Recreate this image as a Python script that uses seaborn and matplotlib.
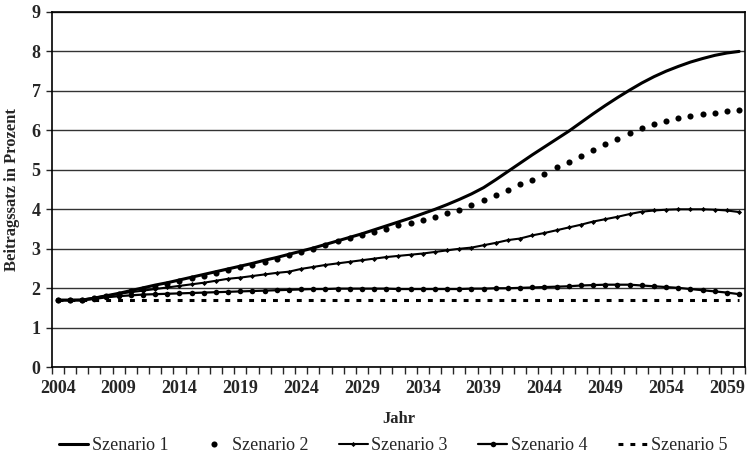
import numpy as np
import pandas as pd
import seaborn as sns
import matplotlib.pyplot as plt

years = list(range(2004, 2061))

szenario1 = [1.70, 1.70, 1.70, 1.75, 1.81, 1.87, 1.94, 2.01, 2.08, 2.14, 2.21, 2.28, 2.35, 2.42,
             2.49, 2.56, 2.63, 2.71, 2.78, 2.86, 2.94, 3.02, 3.11, 3.20, 3.29, 3.38, 3.48, 3.58,
             3.68, 3.78, 3.89, 4.00, 4.12, 4.25, 4.39, 4.55, 4.75, 4.96, 5.17, 5.38, 5.58, 5.78,
             5.98, 6.20, 6.42, 6.63, 6.83, 7.02, 7.20, 7.36, 7.50, 7.62, 7.73, 7.82, 7.90, 7.96, 8.00]
szenario2 = [1.70, 1.70, 1.70, 1.75, 1.80, 1.86, 1.92, 1.98, 2.04, 2.11, 2.18, 2.25, 2.32, 2.38,
             2.46, 2.53, 2.59, 2.66, 2.74, 2.83, 2.93, 3.00, 3.09, 3.19, 3.27, 3.36, 3.43, 3.50,
             3.59, 3.66, 3.73, 3.80, 3.90, 3.99, 4.12, 4.23, 4.35, 4.48, 4.63, 4.75, 4.90, 5.06,
             5.20, 5.35, 5.50, 5.65, 5.79, 5.93, 6.05, 6.15, 6.24, 6.31, 6.36, 6.41, 6.45, 6.48, 6.51]
szenario3 = [1.70, 1.70, 1.71, 1.76, 1.81, 1.86, 1.90, 1.94, 1.98, 2.02, 2.06, 2.10, 2.14, 2.19,
             2.24, 2.27, 2.31, 2.35, 2.39, 2.42, 2.49, 2.54, 2.59, 2.63, 2.67, 2.71, 2.75, 2.79,
             2.82, 2.85, 2.88, 2.92, 2.96, 3.00, 3.03, 3.09, 3.15, 3.22, 3.26, 3.34, 3.40, 3.47,
             3.54, 3.61, 3.69, 3.75, 3.81, 3.88, 3.94, 3.97, 3.99, 4.00, 4.00, 4.00, 3.99, 3.97, 3.93]
szenario4 = [1.70, 1.70, 1.70, 1.73, 1.77, 1.80, 1.82, 1.84, 1.85, 1.86, 1.87, 1.88, 1.89, 1.90,
             1.91, 1.92, 1.93, 1.94, 1.95, 1.96, 1.97, 1.98, 1.98, 1.99, 1.99, 1.99, 1.99, 1.99,
             1.98, 1.98, 1.98, 1.98, 1.98, 1.98, 1.99, 1.99, 2.00, 2.00, 2.01, 2.02, 2.03, 2.04,
             2.05, 2.07, 2.08, 2.09, 2.09, 2.09, 2.07, 2.05, 2.03, 2.01, 1.98, 1.95, 1.92, 1.89, 1.85]
szenario5 = [1.70] * 57

df = pd.DataFrame({"Jahr": years, "Szenario 1": szenario1, "Szenario 2": szenario2,
                   "Szenario 3": szenario3, "Szenario 4": szenario4, "Szenario 5": szenario5})

sns.set_style("white")
plt.rcParams["font.family"] = ["Liberation Serif", "DejaVu Serif"]

fig = plt.figure(figsize=(7.49, 4.59), dpi=100)
ax = fig.add_axes([0.069, 0.2, 0.926, 0.774])

sns.lineplot(data=df, x="Jahr", y="Szenario 1", ax=ax, color="black", lw=2.2, label="Szenario 1")
sns.lineplot(data=df, x="Jahr", y="Szenario 2", ax=ax, color="black", lw=0, marker="o",
             markersize=4.4, markeredgewidth=0, label="Szenario 2")
sns.lineplot(data=df, x="Jahr", y="Szenario 3", ax=ax, color="black", lw=1.5, marker="D",
             markersize=2.6, markeredgewidth=0, label="Szenario 3")
sns.lineplot(data=df, x="Jahr", y="Szenario 4", ax=ax, color="black", lw=1.6, marker="o",
             markersize=4, markeredgewidth=0, label="Szenario 4")
sns.lineplot(data=df, x="Jahr", y="Szenario 5", ax=ax, color="black", lw=2.2,
             linestyle=(0, (1.6, 2.3)), label="Szenario 5")

ax.set_xlim(2003.5, 2060.5)
ax.set_ylim(0, 9)
ax.set_yticks(range(0, 10))
ax.set_xticks(range(2004, 2061, 5))
ax.set_xticks(np.arange(2003.5, 2061, 1), minor=True)
ax.tick_params(axis="x", which="major", length=0, pad=9, labelsize=13)
ax.tick_params(axis="x", which="minor", length=5, width=1, direction="out", bottom=True)
ax.tick_params(axis="y", length=4, width=1, direction="out", left=True, labelsize=13, pad=4)
for lab in ax.get_xticklabels() + ax.get_yticklabels():
    lab.set_fontweight("bold")
ax.grid(axis="y", color="#333333", lw=1)
for s in ax.spines.values():
    s.set_color("black")
    s.set_linewidth(1.2)

ax.set_xlabel("Jahr", fontweight="bold", fontsize=12, labelpad=10)
ax.set_ylabel("Beitragssatz in Prozent", fontweight="bold", fontsize=12, labelpad=8)

handles, labels = ax.get_legend_handles_labels()
ax.get_legend().remove()
fig.legend(handles, labels, loc="lower center", ncol=5, frameon=False, fontsize=13,
           handlelength=1.6, handletextpad=0.2, columnspacing=1.7, bbox_to_anchor=(0.525, -0.025))

fig.savefig("out.png", dpi=100)
